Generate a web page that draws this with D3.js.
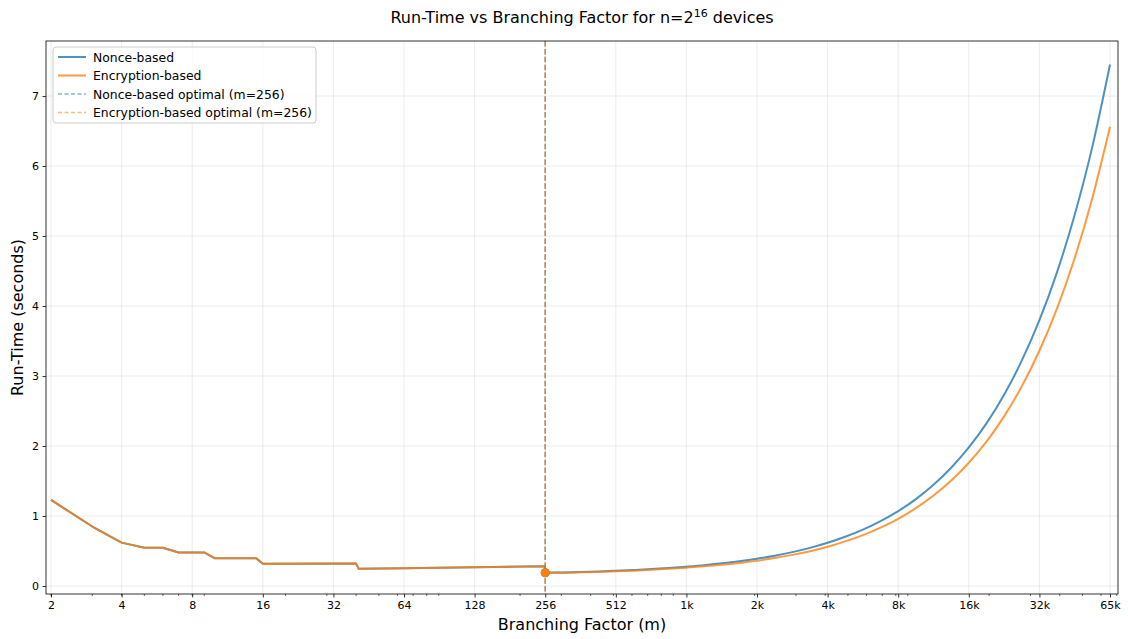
<!DOCTYPE html>
<html>
<head>
<meta charset="utf-8">
<script src="https://cdn.jsdelivr.net/npm/d3@7/dist/d3.min.js"></script>
<style>
  body { margin: 0; background: #fff; }
  svg { font-family: "DejaVu Sans", sans-serif; }
</style>
</head>
<body>
<svg id="chart" width="1128" height="639"></svg>
<script>
// --- data ---
// step part, identical for both methods (m < 256)
var stepM    = [2, 3, 4, 5, 6, 7, 9, 10, 15, 16, 40, 41, 64, 128, 255];
var stepTime = [1.23, 0.85, 0.62, 0.547, 0.547, 0.48, 0.48, 0.395, 0.395, 0.318, 0.32, 0.245, 0.253, 0.267, 0.282];
// curve part (m >= 256), quarter-octave samples
var curveM     = [256, 304, 362, 431, 512, 609, 724, 861, 1024, 1218, 1448, 1722, 2048, 2435, 2896, 3444, 4096,
                  4871, 5793, 6889, 8192, 9742, 11585, 13777, 16384, 19484, 23170, 27554, 32768, 38968, 46341, 55109, 65536];
var nonceCurve = [0.19, 0.194, 0.20, 0.208, 0.218, 0.229, 0.242, 0.258, 0.277, 0.298, 0.324, 0.354, 0.39, 0.433, 0.484, 0.545, 0.618,
                  0.704, 0.805, 0.927, 1.07, 1.242, 1.447, 1.69, 1.98, 2.323, 2.732, 3.219, 3.797, 4.485, 5.304, 6.277, 7.45];
var encCurve   = [0.19, 0.19, 0.195, 0.202, 0.21, 0.219, 0.231, 0.245, 0.262, 0.281, 0.303, 0.33, 0.362, 0.4, 0.445, 0.498, 0.562,
                  0.638, 0.727, 0.834, 0.96, 1.112, 1.292, 1.506, 1.761, 2.064, 2.424, 2.852, 3.361, 3.967, 4.687, 5.544, 6.56];
var optimalM = 256, optimalTime = 0.19;

var xTicks = [2, 4, 8, 16, 32, 64, 128, 256, 512, 1024, 2048, 4096, 8192, 16384, 32768, 65536];
var xTickLabels = ["2","4","8","16","32","64","128","256","512","1k","2k","4k","8k","16k","32k","65k"];
var yTicks = [0, 1, 2, 3, 4, 5, 6, 7];

var seriesNames = ["Nonce-based", "Encryption-based"];
var blue = "#1f77b4", orange = "#ff7f0e";

var stepData = stepM.map(function(m,i){ return [m, stepTime[i]]; });
function curvePts(curve){ return curveM.map(function(m,i){ return [m, curve[i]]; }); }

var svg = d3.select("#chart");
var L = 46, R = 1118, T = 41, B = 594;

var x = d3.scaleLog().base(2).domain([Math.pow(2,0.929), Math.pow(2,16.113)]).range([L, R]);
var y = d3.scaleLinear().domain([-0.114, 7.786]).range([B, T]);

// grid
var grid = svg.append("g").attr("class","grid");
grid.selectAll(".gx").data(xTicks).enter().append("line")
    .attr("x1", d=>x(d)).attr("x2", d=>x(d)).attr("y1", T).attr("y2", B)
    .attr("stroke", "#b0b0b0").attr("stroke-opacity", 0.3).attr("stroke-width", 0.8);
grid.selectAll(".gy").data(yTicks).enter().append("line")
    .attr("x1", L).attr("x2", R).attr("y1", d=>y(d)).attr("y2", d=>y(d))
    .attr("stroke", "#b0b0b0").attr("stroke-opacity", 0.3).attr("stroke-width", 0.8);

svg.append("clipPath").attr("id","clip").append("rect")
    .attr("x", L).attr("y", T).attr("width", R-L).attr("height", B-T);

var plot = svg.append("g").attr("clip-path","url(#clip)");
var lineLin = d3.line().x(d=>x(d[0])).y(d=>y(d[1]));
var lineSmooth = d3.line().x(d=>x(d[0])).y(d=>y(d[1])).curve(d3.curveMonotoneX);

// straight segments for the step part, smooth for the curve part, in one path
function seriesPath(curve){
  var pts = curvePts(curve);
  return lineLin(stepData.concat([pts[0]])) + lineSmooth(pts).replace(/^M/, "L");
}

plot.append("path").attr("d", seriesPath(nonceCurve))
    .attr("fill","none").attr("stroke", blue).attr("stroke-opacity", 0.8).attr("stroke-width", 2)
    .attr("stroke-linejoin","round");
plot.append("path").attr("d", seriesPath(encCurve))
    .attr("fill","none").attr("stroke", orange).attr("stroke-opacity", 0.8).attr("stroke-width", 2)
    .attr("stroke-linejoin","round");

// optimal markers
[blue, orange].forEach(function(c){
  plot.append("line")
      .attr("x1", x(optimalM)).attr("x2", x(optimalM)).attr("y1", T).attr("y2", B)
      .attr("stroke", c).attr("stroke-opacity", 0.65).attr("stroke-width", 1.5)
      .attr("stroke-dasharray", "5.5,2.4");
  plot.append("circle").attr("cx", x(optimalM)).attr("cy", y(optimalTime)).attr("r", 4.5)
      .attr("fill", c);
});

// axes
var xAxis = d3.axisBottom(x).tickValues(xTicks).tickFormat((d,i)=>xTickLabels[i]).tickSize(3.5).tickPadding(3.5);
var gx = svg.append("g").attr("transform", `translate(0 ${B})`).call(xAxis);
var minor = [];
for (var k = 0; k <= 4; k++) for (var dgt = 2; dgt <= 9; dgt++){
  var v = dgt*Math.pow(10,k);
  if (x(v) >= L && x(v) <= R) minor.push(v);
}
gx.selectAll(".minor").data(minor).enter().append("line").attr("class","minor")
    .attr("x1", d=>x(d)).attr("x2", d=>x(d)).attr("y1", 0).attr("y2", 2)
    .attr("stroke", "#000").attr("stroke-width", 0.6);

var yAxis = d3.axisLeft(y).tickValues(yTicks).tickFormat(d3.format("d")).tickSize(3.5).tickPadding(3.5);
var gy = svg.append("g").attr("transform", `translate(${L} 0)`).call(yAxis);

[gx, gy].forEach(function(g){
  g.select(".domain").remove();
  g.selectAll("text").attr("font-size", 11).attr("fill", "#000").attr("font-family", "DejaVu Sans, sans-serif");
  g.selectAll(".tick line").attr("stroke", "#000").attr("stroke-width", 0.8);
});

svg.append("rect").attr("x", L).attr("y", T).attr("width", R-L).attr("height", B-T)
    .attr("fill","none").attr("stroke","#000").attr("stroke-width", 0.8);

// titles
var title = svg.append("text").attr("x", 582).attr("y", 23).attr("text-anchor","middle")
    .attr("font-size", 16).attr("fill","#000");
title.append("tspan").text("Run-Time vs Branching Factor for n=2");
title.append("tspan").attr("dy", -6).attr("font-size", 11).text("16");
title.append("tspan").attr("dy", 6).text(" devices");

svg.append("text").attr("x", (L+R)/2).attr("y", 630).attr("text-anchor","middle")
    .attr("font-size", 16).attr("fill","#000").text("Branching Factor (m)");
svg.append("text").attr("transform", `translate(23 ${(T+B)/2}) rotate(-90)`).attr("text-anchor","middle")
    .attr("font-size", 16).attr("fill","#000").text("Run-Time (seconds)");

// legend
var legendItems = [
  {label: seriesNames[0], color: blue, dash: null, op: 0.8},
  {label: seriesNames[1], color: orange, dash: null, op: 0.8},
  {label: seriesNames[0] + " optimal (m=" + optimalM + ")", color: blue, dash: "4,2.5", op: 0.55},
  {label: seriesNames[1] + " optimal (m=" + optimalM + ")", color: orange, dash: "4,2.5", op: 0.55}
];
var lg = svg.append("g").attr("transform", "translate(53 47)");
lg.append("rect").attr("width", 263).attr("height", 76).attr("rx", 3)
    .attr("fill", "#fff").attr("fill-opacity", 0.8).attr("stroke", "#ccc").attr("stroke-width", 1);
var rows = lg.selectAll(".row").data(legendItems).enter().append("g")
    .attr("transform", (d,i)=>`translate(0 ${10 + i*18.5})`);
rows.append("line").attr("x1", 5).attr("x2", 33).attr("y1", 0).attr("y2", 0)
    .attr("stroke", d=>d.color).attr("stroke-opacity", d=>d.op)
    .attr("stroke-width", d=>d.dash ? 1.5 : 2)
    .attr("stroke-dasharray", d=>d.dash);
rows.append("text").attr("x", 40).attr("y", 4.5).attr("font-size", 12.4).attr("fill","#000").text(d=>d.label);
</script>
</body>
</html>
